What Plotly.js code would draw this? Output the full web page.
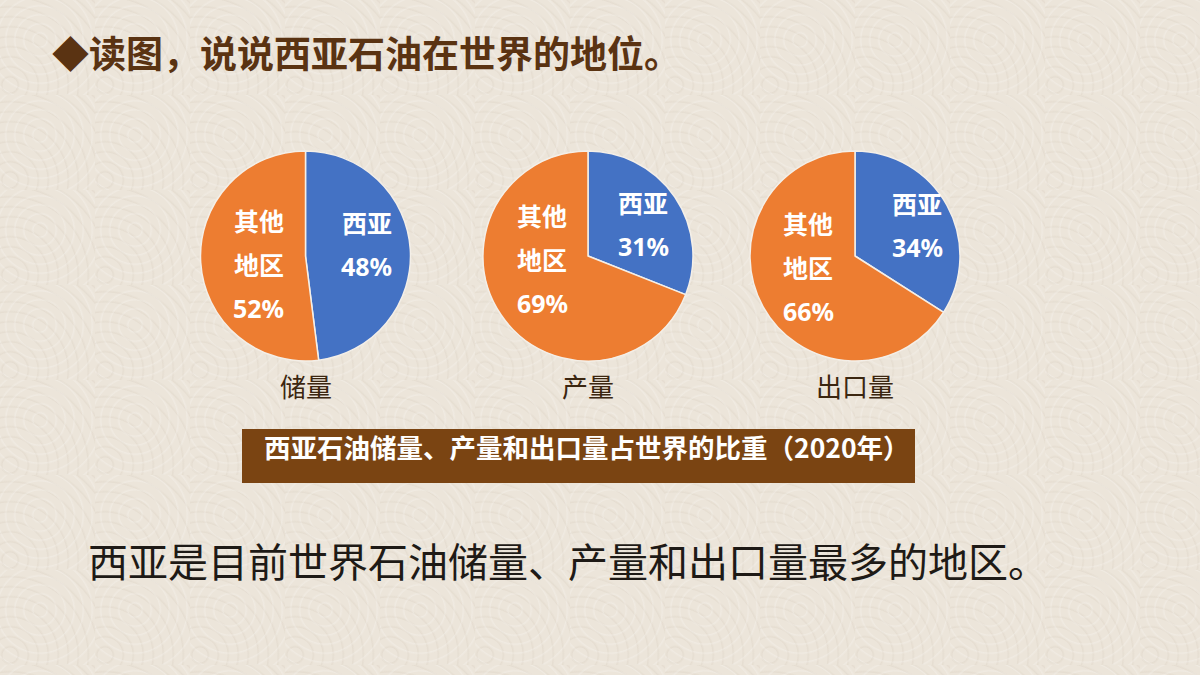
<!DOCTYPE html>
<html><head><meta charset="utf-8">
<script src="https://cdn.plot.ly/plotly-3.0.1.min.js"></script>
<style>
html,body{margin:0;padding:0;background:#ece5da;}
#chart{width:1200px;height:675px;
background-color:#ece5da;
background-image:
 repeating-radial-gradient(circle at 40px 40px, rgba(255,255,255,0.0) 0px, rgba(255,255,255,0.0) 6px, rgba(255,255,255,0.22) 7px, rgba(255,255,255,0.0) 9px),
 repeating-radial-gradient(circle at 10px 85px, rgba(190,175,155,0.0) 0px, rgba(190,175,155,0.0) 7px, rgba(190,175,155,0.14) 8px, rgba(190,175,155,0.0) 10px);
background-size:95px 95px, 95px 95px;}
</style>
</head><body><div id="chart"></div>
<script>
const regions = ['西亚', '其他地区'];
const regionLines = [['西亚'], ['其他', '地区']];
const reserves = [48, 52];
const production = [31, 69];
const exports = [34, 66];
const pieNames = ['储量', '产量', '出口量'];
const pageTitle = '◆读图，说说西亚石油在世界的地位。';
const bannerText = '西亚石油储量、产量和出口量占世界的比重（2020年）';
const conclusion = '西亚是目前世界石油储量、产量和出口量最多的地区。';

const seriesValues = [reserves, production, exports];

// layout geometry (pixels)
const W = 1200, H = 675;
const pieCentersX = [305.5, 588, 855];
const pieCenterY = 256, pieR = 105;
// label block anchor offsets from pie centre [blue, orange], first-line offset
const labelAnchors = [[[61, -34], [-47, -36]], [[55, -54], [-46, -41]], [[62, -53], [-47, -33]]];
const lineGap = 44;

const cjk = '"Noto Sans CJK SC", "Noto Sans", sans-serif';

const traces = seriesValues.map((vals, i) => ({
  type: 'pie',
  labels: regions,
  values: vals,
  sort: false,
  direction: 'clockwise',
  rotation: 0,
  domain: {x: [(pieCentersX[i] - pieR) / W, (pieCentersX[i] + pieR) / W],
           y: [1 - (pieCenterY + pieR) / H, 1 - (pieCenterY - pieR) / H]},
  marker: {colors: ['#4472c4', '#ed7d31'], line: {color: '#f4efe8', width: 1.5}},
  textinfo: 'none',
  hoverinfo: 'none',
  showlegend: false
}));

const ann = [
  {text: '<b>' + pageTitle + '</b>', xref: 'paper', yref: 'paper', x: 50 / W, y: 1 - 52 / H,
   xanchor: 'left', yanchor: 'middle', showarrow: false,
   font: {family: cjk, size: 37, color: '#5a3312'}},
  {text: '<b>' + bannerText + '</b>', xref: 'paper', yref: 'paper', x: 262 / W, y: 1 - 446 / H,
   xanchor: 'left', yanchor: 'middle', showarrow: false,
   font: {family: cjk, size: 26.5, color: '#ffffff'}},
  {text: conclusion, xref: 'paper', yref: 'paper', x: 86 / W, y: 1 - 560 / H,
   xanchor: 'left', yanchor: 'middle', showarrow: false,
   font: {family: cjk, size: 40, color: '#1e1a16'}}
];

pieNames.forEach((n, i) => {
  ann.push({text: n, xref: 'paper', yref: 'paper', x: pieCentersX[i] / W, y: 1 - 385 / H,
    xanchor: 'center', yanchor: 'middle', showarrow: false,
    font: {family: cjk, size: 26, color: '#3b2610'}});
  seriesValues[i].forEach((v, j) => {
    const lines = regionLines[j].concat([v + '%']);
    const [ox, oy] = labelAnchors[i][j];
    lines.forEach((ln, k) => {
      const isPct = k === lines.length - 1;
      ann.push({text: '<b>' + ln + '</b>', xref: 'paper', yref: 'paper',
        x: (pieCentersX[i] + ox) / W, y: 1 - (pieCenterY + oy + k * lineGap) / H,
        xanchor: 'center', yanchor: 'middle', showarrow: false,
        font: {family: isPct ? '"Noto Sans", sans-serif' : cjk, size: 25, color: '#ffffff'}});
    });
  });
});

const layout = {
  width: W, height: H,
  margin: {l: 0, r: 0, t: 0, b: 0},
  paper_bgcolor: 'rgba(0,0,0,0)',
  plot_bgcolor: 'rgba(0,0,0,0)',
  showlegend: false,
  shapes: [
    {type: 'rect', xref: 'paper', yref: 'paper', x0: 242 / W, x1: 915 / W, y0: 1 - 483 / H, y1: 1 - 429 / H,
     fillcolor: '#7a4412', line: {width: 0}, layer: 'below'}
  ],
  annotations: ann
};

Plotly.newPlot('chart', traces, layout, {staticPlot: true, displayModeBar: false});
</script>
</body></html>
